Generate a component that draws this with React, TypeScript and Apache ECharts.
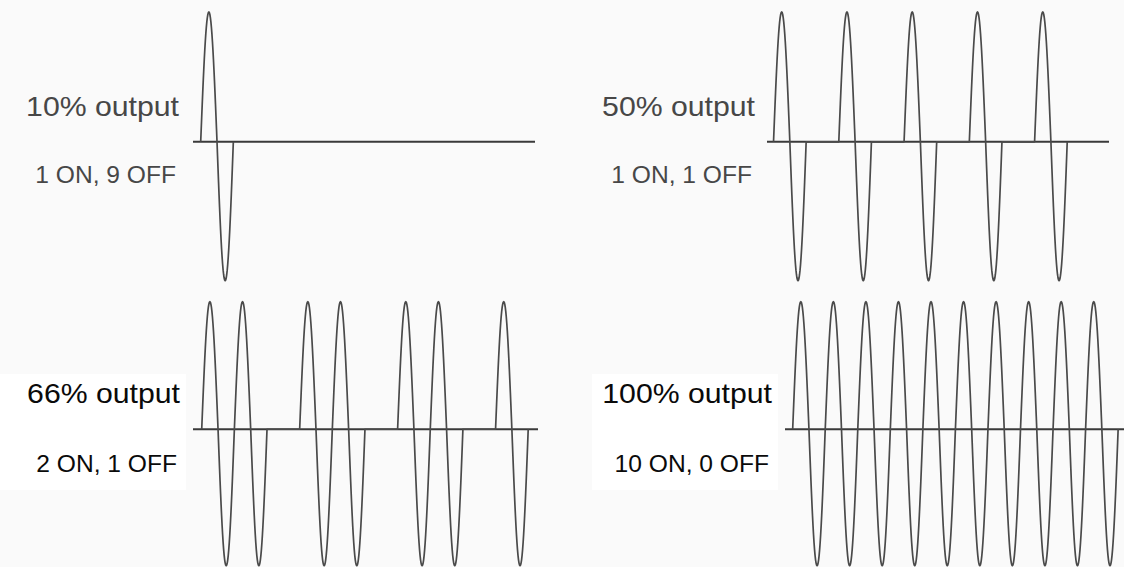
import React, { useEffect, useRef } from "react";
import * as echarts from "echarts";

// ---- Data ----
// ON (1) / OFF (0) state of each of the 10 mains cycles in each panel
const pattern10 = [1, 0, 0, 0, 0, 0, 0, 0, 0, 0];
const pattern50 = [1, 0, 1, 0, 1, 0, 1, 0, 1, 0];
const pattern66 = [1, 1, 0, 1, 1, 0, 1, 1, 0, 1];
const pattern100 = [1, 1, 1, 1, 1, 1, 1, 1, 1, 1];

const outputLabels = ["10% output", "50% output", "66% output", "100% output"];
const cycleLabels = ["1 ON, 9 OFF", "1 ON, 1 OFF", "2 ON, 1 OFF", "10 ON, 0 OFF"];

// relative height of the positive peak and of the negative trough (as drawn)
const peakAmplitude = 1.0;
const troughAmplitude = 1.07;
const samplesPerCycle = 64;

const patterns = [pattern10, pattern50, pattern66, pattern100];

function buildWave(pattern: number[]): number[][] {
  const pts: number[][] = [];
  pattern.forEach((on, c) => {
    if (!on) return;
    for (let k = 0; k <= samplesPerCycle; k++) {
      const t = k / samplesPerCycle;
      const s = Math.sin(2 * Math.PI * t);
      const v = s >= 0 ? s * peakAmplitude : s * troughAmplitude;
      pts.push([c + t, v]);
    }
  });
  return pts;
}

// layout of each panel (pixels) and x extents (in cycles)
const panels = [
  { left: 193, top: 12, width: 342, height: 270, xmin: -0.236, xmax: 10.245, textRight: 179, row: 0, dark: false },
  { left: 767, top: 12, width: 342, height: 270, xmin: -0.2, xmax: 10.28, textRight: 755, row: 0, dark: false },
  { left: 193, top: 301.7, width: 345, height: 266, xmin: -0.267, xmax: 10.3, textRight: 180, row: 1, dark: true },
  { left: 785, top: 301.7, width: 340, height: 266, xmin: -0.236, xmax: 10.18, textRight: 772, row: 1, dark: true },
];

export default function App() {
  const ref = useRef<HTMLDivElement>(null);

  useEffect(() => {
    if (!ref.current) return;
    const chart = echarts.init(ref.current, undefined, { renderer: "svg" });
    const lineColor = "#4a4a4a";

    const grid = panels.map((p) => ({
      left: p.left,
      top: p.top,
      width: p.width,
      height: p.height,
      containLabel: false,
    }));
    const xAxis = panels.map((p, i) => ({
      type: "value" as const,
      gridIndex: i,
      min: p.xmin,
      max: p.xmax,
      show: false,
    }));
    const yAxis = panels.map((p, i) => ({
      type: "value" as const,
      gridIndex: i,
      min: -1.08,
      max: 1,
      show: false,
    }));

    const series: any[] = [];
    panels.forEach((p, i) => {
      series.push({
        type: "line",
        xAxisIndex: i,
        yAxisIndex: i,
        data: [
          [p.xmin, 0],
          [p.xmax, 0],
        ],
        showSymbol: false,
        symbol: "none",
        silent: true,
        clip: false,
        lineStyle: { color: "#3a3a3a", width: 1.9 },
      });
      series.push({
        type: "line",
        xAxisIndex: i,
        yAxisIndex: i,
        data: buildWave(patterns[i]),
        showSymbol: false,
        symbol: "none",
        silent: true,
        clip: false,
        lineStyle: { color: lineColor, width: 1.7, join: "round" },
      });
    });

    const rowY = [
      { big: 106.5, small: 175 },
      { big: 393.5, small: 464 },
    ];

    const graphic: any[] = [
      { type: "rect", left: 0, top: 374, shape: { width: 186, height: 116 }, style: { fill: "#ffffff" }, z: -1 },
      { type: "rect", left: 592, top: 374, shape: { width: 186, height: 116 }, style: { fill: "#ffffff" }, z: -1 },
    ];
    panels.forEach((p, i) => {
      const fill = p.dark ? "#0a0a0a" : "#474747";
      graphic.push({
        type: "text",
        x: p.textRight,
        y: rowY[p.row].big,
        scaleX: 1.08,
        style: {
          text: outputLabels[i],
          font: `28px "Liberation Sans", Arial, sans-serif`,
          fill,
          textAlign: "right",
          textVerticalAlign: "middle",
        },
      });
      graphic.push({
        type: "text",
        x: p.textRight - 3,
        y: rowY[p.row].small,
        scaleX: 1.07,
        style: {
          text: cycleLabels[i],
          font: `23px "Liberation Sans", Arial, sans-serif`,
          fill,
          textAlign: "right",
          textVerticalAlign: "middle",
        },
      });
    });

    chart.setOption({
      animation: false,
      backgroundColor: "#fafafa",
      grid,
      xAxis,
      yAxis,
      series,
      graphic,
    });

    return () => chart.dispose();
  }, []);

  return (
    <div
      ref={ref}
      style={{ position: "absolute", left: 0, top: 0, width: 1124, height: 567 }}
    />
  );
}
